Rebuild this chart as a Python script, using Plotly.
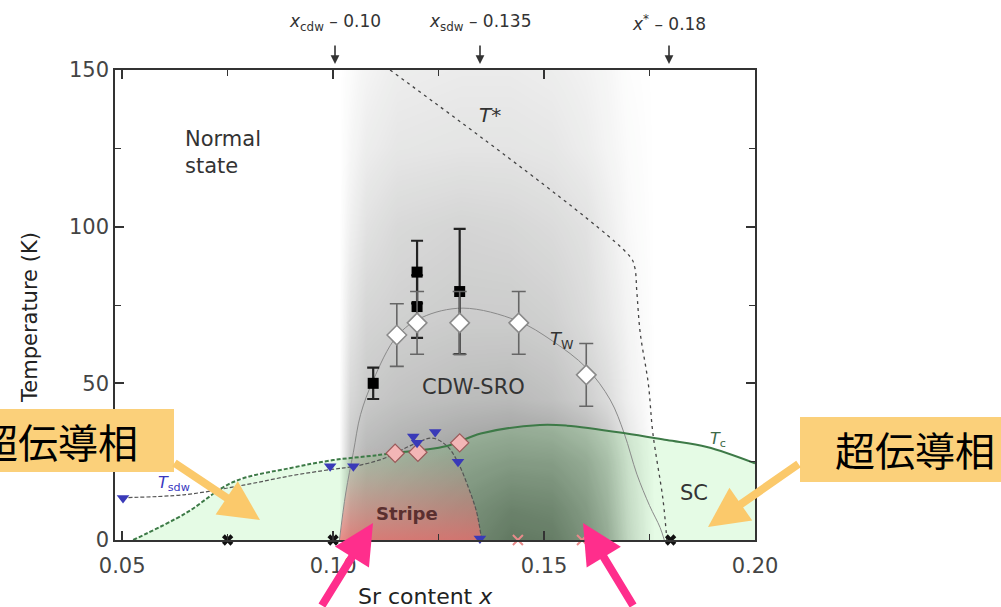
import plotly.graph_objects as go

FONT = "DejaVu Sans"

# ---------------- data ----------------
# Tc (superconducting dome)
tc_x = [0.0526, 0.065, 0.0763, 0.09, 0.10, 0.11, 0.116, 0.127, 0.135, 0.149, 0.1554, 0.1692, 0.1791, 0.1886, 0.20]
tc_T = [0, 8.5, 18.5, 23, 25.5, 27, 28, 30, 34, 36.7, 36.5, 34.1, 31.9, 29.7, 24.5]
tc_dash_end = 6  # index up to which Tc is drawn dashed

# Tsdw guide line
tsdw_line_x = [0.05, 0.065, 0.0787, 0.09, 0.0995, 0.105, 0.112, 0.119, 0.1235, 0.127, 0.1295, 0.132, 0.134, 0.1352]
tsdw_line_T = [13.5, 14.5, 17.5, 20.5, 22.5, 23.5, 26, 30.5, 32.5, 30, 25, 17, 9, 0]

# Tw guide line (CDW-SRO dome)
tw_x = [0.1015, 0.103, 0.1048, 0.1065, 0.1095, 0.1151, 0.121, 0.1308, 0.1436, 0.152, 0.160, 0.1657, 0.169, 0.172, 0.175, 0.1775, 0.1785]
tw_T = [0, 15, 28, 40, 51, 65, 71, 74, 70, 63.5, 55, 44.7, 34, 21, 11, 4, 0]

# T* crossover line
tstar_x = [0.1135, 0.1704, 0.1715, 0.172, 0.1728, 0.1747, 0.1758, 0.1782, 0.1791]
tstar_T = [150, 90.4, 87, 79, 66, 50, 34, 12.8, 0]

# Black squares with error bars
sq_x = [0.1095, 0.1199, 0.1199, 0.1300]
sq_T = [50, 85.5, 74.5, 79.3]
sq_err = [5, 10, 10, 20]

# Open diamonds (Tw) with error bars
dm_x = [0.1151, 0.1199, 0.1300, 0.1440, 0.1600]
dm_T = [65.4, 69.3, 69.3, 69.3, 52.7]
dm_err = [10, 10, 10, 10, 10]

# Pink diamonds
pd_x = [0.1147, 0.1201, 0.1300]
pd_T = [27.7, 28.0, 31.0]

# Blue down triangles (Tsdw)
tr_x = [0.0502, 0.0993, 0.1048, 0.1190, 0.1199, 0.1242, 0.1296, 0.1348]
tr_T = [13.4, 23.5, 23.5, 33.0, 31.0, 34.5, 25.0, 0.5]

# crosses on the axis
bx_x = [0.075, 0.10, 0.18]
bx_T = [0, 0, 0]
px_x = [0.1438, 0.159]
px_T = [0, 0]

# background shading (grey opacity)
shade_x = [0.1015, 0.1040, 0.1075, 0.1150, 0.1300, 0.1420, 0.1520, 0.1600, 0.1650, 0.1700, 0.1760]
shade_T = [0, 10, 25, 45, 70, 100, 125, 150]
shade_a = [
    [0, 0.30, 0.40, 0.45, 0.55, 0.65, 0.63, 0.52, 0.40, 0.18, 0],
    [0, 0.28, 0.37, 0.42, 0.52, 0.60, 0.58, 0.48, 0.36, 0.16, 0],
    [0, 0.25, 0.33, 0.37, 0.44, 0.48, 0.47, 0.40, 0.30, 0.13, 0],
    [0, 0.18, 0.24, 0.27, 0.30, 0.31, 0.28, 0.22, 0.16, 0.07, 0],
    [0, 0.12, 0.19, 0.21, 0.23, 0.23, 0.21, 0.16, 0.11, 0.05, 0],
    [0, 0.07, 0.13, 0.17, 0.19, 0.18, 0.16, 0.13, 0.08, 0.03, 0],
    [0, 0.04, 0.08, 0.11, 0.12, 0.12, 0.11, 0.08, 0.05, 0.02, 0],
    [0, 0.02, 0.05, 0.08, 0.09, 0.09, 0.08, 0.06, 0.04, 0.01, 0],
]

# ---------------- figure ----------------
fig = go.Figure()

fig.add_trace(go.Heatmap(
    x=shade_x, y=shade_T, z=shade_a, zmin=0, zmax=1, zsmooth="best",
    colorscale=[[0, "rgba(30,32,30,0)"], [1, "rgba(30,32,30,1)"]],
    showscale=False, hoverinfo="skip"))

# SC green area
fig.add_trace(go.Scatter(x=tc_x, y=tc_T, mode="none", fill="tozeroy",
                         fillcolor="rgba(0,215,0,0.10)", hoverinfo="skip"))

# Stripe pink area (under Tw left flank and Tsdw right flank)
stripe_left = [(x, t) for x, t in zip(tw_x, tw_T) if x <= 0.1066]
stripe_right = [(x, t) for x, t in zip(tsdw_line_x, tsdw_line_T) if x >= 0.127]
st_x = [p[0] for p in stripe_left] + [p[0] for p in stripe_right]
st_T = [p[1] for p in stripe_left] + [p[1] for p in stripe_right]
fig.add_trace(go.Scatter(
    x=st_x, y=st_T, mode="none", fill="toself",
    fillgradient=dict(type="vertical", start=0, stop=30,
                      colorscale=[[0, "rgba(235,110,110,0.78)"],
                                  [0.45, "rgba(225,130,130,0.45)"],
                                  [1, "rgba(210,160,160,0)"]]),
    hoverinfo="skip"))

# lines
fig.add_trace(go.Scatter(x=tw_x, y=tw_T, mode="lines", line=dict(color="#8a8a8a", width=1, shape="spline"), hoverinfo="skip"))
fig.add_trace(go.Scatter(x=tsdw_line_x, y=tsdw_line_T, mode="lines",
                         line=dict(color="#555555", width=1.2, dash="4px,2px", shape="spline"), hoverinfo="skip"))
fig.add_trace(go.Scatter(x=tc_x[:tc_dash_end + 1], y=tc_T[:tc_dash_end + 1], mode="lines",
                         line=dict(color="#3d7a47", width=2, dash="4px,2px", shape="spline"), hoverinfo="skip"))
fig.add_trace(go.Scatter(x=tc_x[tc_dash_end:], y=tc_T[tc_dash_end:], mode="lines",
                         line=dict(color="#3d7a47", width=2, shape="spline"), hoverinfo="skip"))
fig.add_trace(go.Scatter(x=tstar_x, y=tstar_T, mode="lines",
                         line=dict(color="#444444", width=1.3, dash="3px,4px", shape="spline"), hoverinfo="skip"))

# markers
fig.add_trace(go.Scatter(
    x=sq_x, y=sq_T, mode="markers",
    marker=dict(symbol="square", size=11, color="black"),
    error_y=dict(type="data", array=sq_err, color="#222222", thickness=2.2, width=6),
    hoverinfo="skip"))
fig.add_trace(go.Scatter(
    x=dm_x, y=dm_T, mode="markers",
    marker=dict(symbol="diamond", size=15, color="white", line=dict(color="#8a8a8a", width=1.5)),
    error_y=dict(type="data", array=dm_err, color="#666666", thickness=1.6, width=7),
    hoverinfo="skip"))
fig.add_trace(go.Scatter(
    x=pd_x, y=pd_T, mode="markers",
    marker=dict(symbol="diamond", size=14, color="#f3b6b6", line=dict(color="#9a5a5a", width=1.2)),
    hoverinfo="skip"))
fig.add_trace(go.Scatter(
    x=tr_x, y=tr_T, mode="markers", cliponaxis=False,
    marker=dict(symbol="triangle-down", size=11, color="#3a3ab8"),
    hoverinfo="skip"))
fig.add_trace(go.Scatter(
    x=bx_x, y=bx_T, mode="markers", cliponaxis=False,
    marker=dict(symbol="x", size=10, color="#111111"),
    hoverinfo="skip"))
fig.add_trace(go.Scatter(
    x=px_x, y=px_T, mode="markers", cliponaxis=False,
    marker=dict(symbol="x-thin", size=10, line=dict(color="#e88a8a", width=2)),
    hoverinfo="skip"))

# ---------------- layout ----------------
L, R, T, B = 115, 246, 70, 67
W, H = 1001, 607
PW, PH = W - L - R, H - T - B


def px(x):
    return (x - L) / PW


def py(y):
    return (H - B - y) / PH


def lab(x, y, text, size, color="#333333", **kw):
    d = dict(x=x, y=y, xref="x", yref="y", text=text, showarrow=False,
             xanchor="center", yanchor="middle", font=dict(size=size, color=color))
    d.update(kw)
    return d


def plab(xp, yp, text, size, color="#333333", family=FONT, **kw):
    d = dict(x=px(xp), y=py(yp), xref="paper", yref="paper", text=text, showarrow=False,
             xanchor="center", yanchor="middle", font=dict(size=size, color=color, family=family))
    d.update(kw)
    return d


ann = [
    lab(0.0645, 123.8, "Normal<br>state", 21, xanchor="left", align="left"),
    lab(0.1332, 48.8, "CDW-SRO", 21),
    lab(0.1175, 8.6, "<b>Stripe</b>", 18, color="#5a3030"),
    lab(0.1855, 15, "SC", 21),
    lab(0.1372, 135.6, "<i>T</i>*", 20),
    lab(0.1543, 63.8, "<i>T</i><sub>W</sub>", 18),
    lab(0.1912, 32, "<i>T</i><sub>c</sub>", 16, color="#3d6a47"),
    lab(0.0623, 18, "<i>T</i><sub>sdw</sub>", 16, color="#3838c0"),
]
# top labels and arrows
for cx, label in [(335, "<i>x</i><sub>cdw</sub> – 0.10"),
                  (480, "<i>x</i><sub>sdw</sub> – 0.135"),
                  (669, "<i>x</i><sup>*</sup> – 0.18")]:
    ann.append(plab(cx, 23, label, 17))
    ann.append(dict(x=px(cx), y=py(64), xref="paper", yref="paper", text="", showarrow=True,
                    ax=0, ay=-20, arrowhead=2, arrowsize=1.1, arrowwidth=1.6, arrowcolor="#333333", standoff=0))
# axis titles
ann.append(plab(425, 596, "Sr content <i>x</i>", 22, color="#222222"))
ann.append(plab(30, 318, "Temperature (K)", 21, color="#222222", textangle=-90))

# callout boxes
shapes = [
    dict(type="rect", xref="paper", yref="paper", x0=px(-5), x1=px(174), y0=py(472), y1=py(409),
         fillcolor="#fbd07a", line=dict(width=0), layer="above"),
    dict(type="rect", xref="paper", yref="paper", x0=px(800), x1=px(1010), y0=py(482), y1=py(417),
         fillcolor="#fbd07a", line=dict(width=0), layer="above"),
]
ann.append(plab(58, 441, "超伝導相", 40, color="black", family="Noto Sans CJK JP"))
ann.append(plab(915, 449, "超伝導相", 40, color="black", family="Noto Sans CJK JP"))

# arrows (tip at x,y ; tail offset ax, ay in pixels)
arrows = [
    (260, 520, -87, -58, "#fbc96b"),
    (708, 527, 92, -64, "#fbc96b"),
    (373, 523, -52, 97, "#ff2e8c"),
    (583, 523, 51, 97, "#ff2e8c"),
]
for tx, ty, ax, ay, col in arrows:
    ann.append(dict(x=px(tx), y=py(ty), xref="paper", yref="paper", text="", showarrow=True,
                    ax=ax, ay=ay, arrowhead=2, arrowsize=1, arrowwidth=8, arrowcolor=col, standoff=0))

axis_common = dict(
    showgrid=False, zeroline=False, showline=True, linecolor="#333333", linewidth=1.5,
    mirror="ticks", ticks="inside", ticklen=9, tickwidth=1.5, tickcolor="#333333",
    tickfont=dict(size=21, color="#444444", family=FONT),
)
fig.update_layout(
    width=W, height=H, margin=dict(l=L, r=R, t=T, b=B),
    paper_bgcolor="white", plot_bgcolor="white", showlegend=False,
    font=dict(family=FONT),
    xaxis=dict(range=[0.0483, 0.2], tick0=0.05, dtick=0.05, tickformat=".2f", ticklabelstandoff=6,
               minor=dict(dtick=0.025, tick0=0.05, ticks="inside", ticklen=6, tickwidth=1.3, tickcolor="#333333"),
               **axis_common),
    yaxis=dict(range=[0, 150], tick0=0, dtick=50,
               minor=dict(dtick=25, tick0=0, ticks="inside", ticklen=6, tickwidth=1.3, tickcolor="#333333"),
               **axis_common),
    annotations=ann, shapes=shapes,
)

fig.write_html("out.html")
